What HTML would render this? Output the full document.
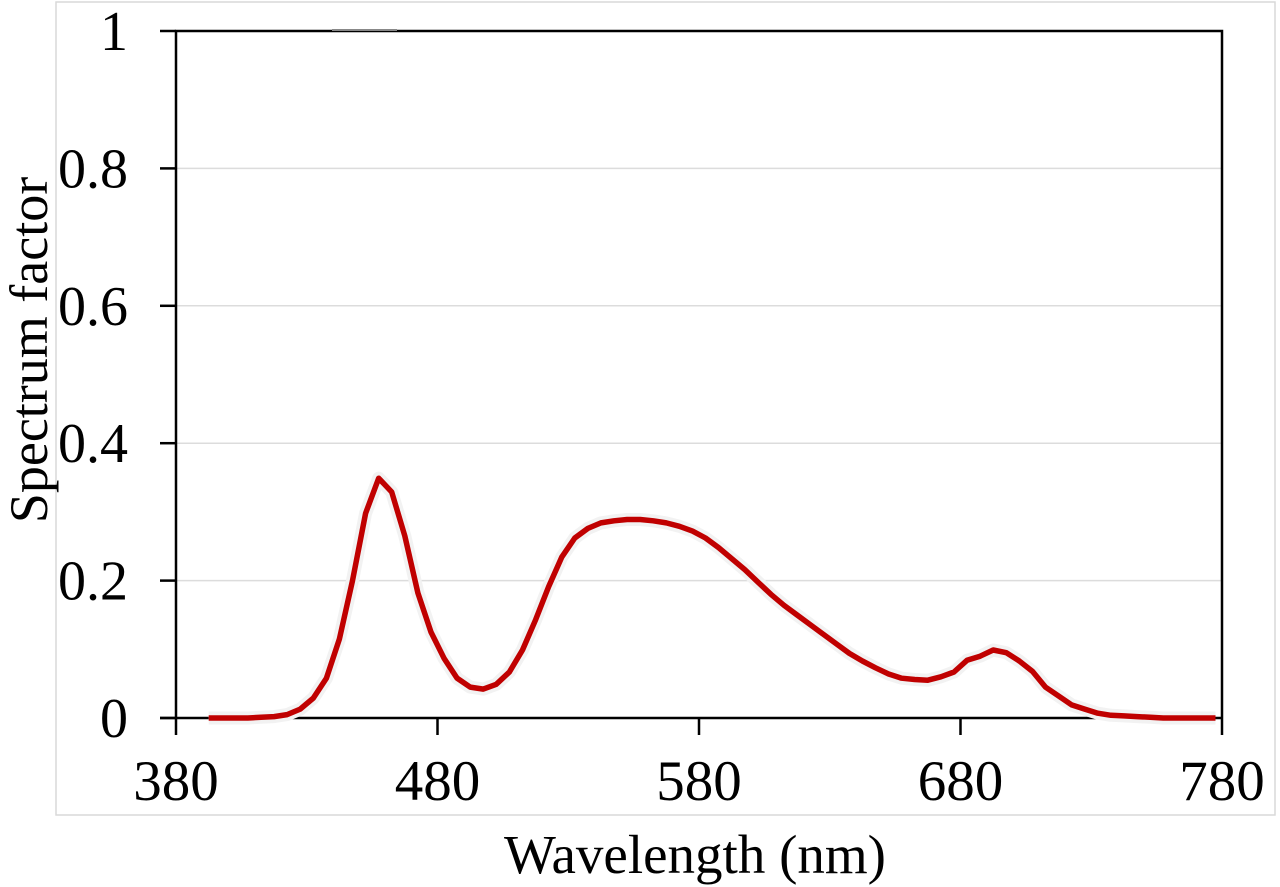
<!DOCTYPE html>
<html><head><meta charset="utf-8"><style>
html,body{margin:0;padding:0;background:#fff;}
svg{display:block;font-family:"Liberation Serif",serif;}
</style></head><body>
<svg id="chart" width="1280" height="887" viewBox="0 0 1280 887">
<rect x="56" y="2" width="1219" height="813" fill="none" stroke="#d9d9d9" stroke-width="1.5"/>
<g id="grid"></g>
<g id="axes"></g>
<g id="series"></g>
<text x="695" y="873" font-size="55" text-anchor="middle">Wavelength (nm)</text>
<text transform="translate(47,350) rotate(-90)" font-size="54" text-anchor="middle">Spectrum factor</text>
</svg>
<script>
const wavelengths = [392.5,397.5,402.5,407.5,412.5,417.5,422.5,427.5,432.5,437.5,442.5,447.5,452.5,457.5,462.5,467.5,472.5,477.5,482.5,487.5,492.5,497.5,502.5,507.5,512.5,517.5,522.5,527.5,532.5,537.5,542.5,547.5,552.5,557.5,562.5,567.5,572.5,577.5,582.5,587.5,592.5,597.5,602.5,607.5,612.5,617.5,622.5,627.5,632.5,637.5,642.5,647.5,652.5,657.5,662.5,667.5,672.5,677.5,682.5,687.5,692.5,697.5,702.5,707.5,712.5,717.5,722.5,727.5,732.5,737.5,742.5,747.5,752.5,757.5,762.5,767.5,772.5,777.5];
const spectrum = [0,0,0,0,0.001,0.002,0.005,0.013,0.029,0.058,0.115,0.2,0.298,0.349,0.329,0.265,0.182,0.125,0.087,0.058,0.045,0.042,0.049,0.067,0.099,0.143,0.191,0.234,0.262,0.276,0.284,0.287,0.289,0.289,0.287,0.284,0.279,0.272,0.262,0.248,0.232,0.216,0.198,0.18,0.164,0.15,0.136,0.122,0.108,0.094,0.083,0.073,0.064,0.058,0.056,0.055,0.06,0.067,0.084,0.09,0.099,0.095,0.083,0.068,0.045,0.032,0.019,0.013,0.007,0.004,0.003,0.002,0.001,0,0,0,0,0];
const xTicks = [380,480,580,680,780];
const yTicks = [0,0.2,0.4,0.6,0.8,1];
const yTickLabels = ["0","0.2","0.4","0.6","0.8","1"];

const NS="http://www.w3.org/2000/svg";
const X0=176,X1=1222,Y0=718,Y1=31;
function xs(v){return X0+(v-380)/400*(X1-X0);}
function ys(v){return Y0-v*(Y0-Y1);}
function mk(tag,attrs,parent){const e=document.createElementNS(NS,tag);for(const k in attrs)e.setAttribute(k,attrs[k]);parent.appendChild(e);return e;}
const grid=document.getElementById('grid'),axes=document.getElementById('axes'),series=document.getElementById('series');
yTicks.forEach((t,i)=>{
  if(t>0&&t<1){const g=mk('line',{x1:X0,x2:X1,y1:ys(t),y2:ys(t),stroke:'#dcdcdc','stroke-width':1.5},grid);
  
  }
  const tk=mk('line',{x1:160,x2:X0,y1:ys(t),y2:ys(t),stroke:'#000','stroke-width':2.5},axes);
  
  
  const lb=mk('text',{x:128,y:ys(t)+19,'font-size':56,'text-anchor':'end'},axes);
  lb.textContent=yTickLabels[i];
  
  
});
xTicks.forEach(t=>{
  const tk=mk('line',{x1:xs(t),x2:xs(t),y1:Y0,y2:735,stroke:'#000','stroke-width':2.5},axes);
  
  
  const lb=mk('text',{x:xs(t),y:800,'font-size':57,'text-anchor':'middle'},axes);
  lb.textContent=String(t);
  
  
});
const frame=mk('path',{d:`M${X0},${Y0}V${Y1}H${X1}V${Y0}`,fill:'none',stroke:'#000','stroke-width':2.5},axes);


const xa=mk('line',{x1:160,x2:X1,y1:Y0,y2:Y0,stroke:'#000','stroke-width':2.5},axes);


const seg=mk('line',{x1:332,x2:397,y1:30,y2:30,stroke:'#888','stroke-width':2},axes);


const pts=wavelengths.map((w,i)=>xs(w).toFixed(1)+','+ys(spectrum[i]).toFixed(1)).join(' ');
const ghost=mk('polyline',{points:pts,fill:'none',stroke:'#f2f2f2','stroke-width':13,'stroke-linejoin':'round'},series);


const line=mk('polyline',{points:pts,fill:'none',stroke:'#c00000','stroke-width':5.5,'stroke-linejoin':'round'},series);


</script>
</body></html>
